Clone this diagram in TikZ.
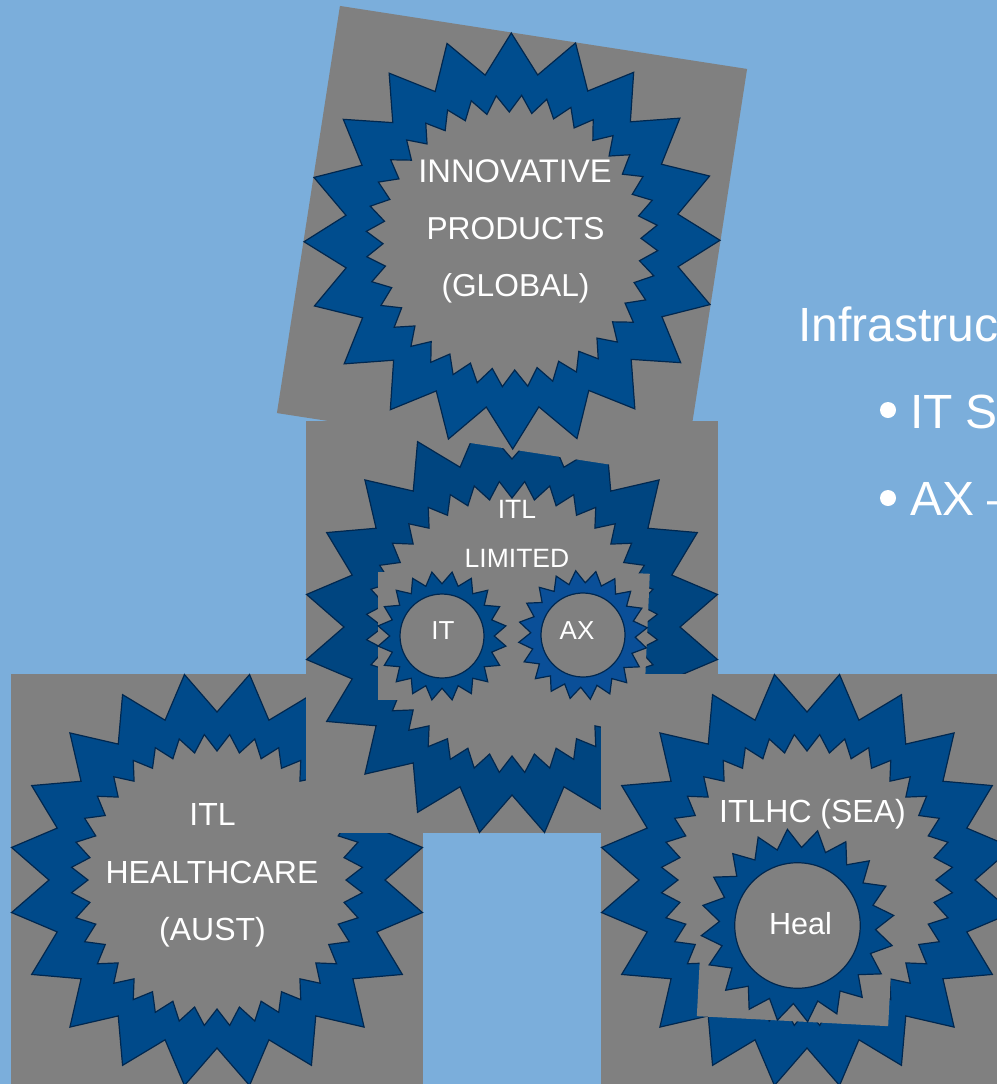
\documentclass[tikz,border=0pt]{standalone}
\usepackage{fontspec}
\setmainfont{Liberation Sans}
\definecolor{bgblue}{HTML}{7BAEDB}
\definecolor{panelgray}{HTML}{808080}
\definecolor{navyA}{HTML}{004D8E}
\definecolor{navyB}{HTML}{004580}
\definecolor{navyC}{HTML}{004A8A}
\definecolor{navyD}{HTML}{0A4F98}
\definecolor{edgeblue}{HTML}{00274F}
\newcommand{\fsz}[1]{\fontsize{#1bp}{#1bp}\selectfont}
\newcommand{\bigbadge}[5]{% cx cy rot fill scale: square, serrated ring
  \begin{scope}[shift={(#1,#2)},rotate=#3,scale=#5]
    \fill[panelgray] (-206,-206) rectangle (206,206);
    \filldraw[fill=#4,badgeedge] (0:168) \foreach \k in {0,...,19}{ -- ({9+18*\k}:208) -- ({18+18*\k}:168) } -- cycle;
    \filldraw[fill=panelgray,badgeedge] (0:129) \foreach \k in {0,...,35}{ -- ({5+10*\k}:146) -- ({10+10*\k}:129) } -- cycle;
  \end{scope}}
\newcommand{\smallbadge}[5]{% cx cy rot fill scale: square, toothed disc
  \begin{scope}[shift={(#1,#2)},rotate=#3,scale=#5]
    \fill[panelgray] (-206,-206) rectangle (206,206);
    \filldraw[fill=#4,badgeedge] (0:168) \foreach \k in {0,...,19}{ -- ({9+18*\k}:208) -- ({18+18*\k}:168) } -- cycle;
    \filldraw[fill=panelgray,badgeedge] (0,0) circle (135);
  \end{scope}}
\tikzset{
  x=1bp,y=-1bp,
  badgeedge/.style={draw=edgeblue,line width=1.2bp,line join=miter},
  lab/.style={text=white,anchor=base,inner sep=0pt,outer sep=0pt,font=\fsz{#1}},
  sidetext/.style={text=white,anchor=base west,inner sep=0pt,outer sep=0pt,font=\fsz{48}},
  dotmark/.style={circle,fill=white,inner sep=0pt,minimum size=16bp}
}
\begin{document}
\begin{tikzpicture}
\useasboundingbox (0,0) rectangle (997,1084);
\clip (0,0) rectangle (997,1084);
\fill[bgblue] (0,0) rectangle (997,1084);
\bigbadge{217}{880}{0}{navyC}{1}
\bigbadge{512}{627}{0}{navyB}{1}
\bigbadge{807}{880}{0}{navyC}{1}
\bigbadge{512}{241}{-8.8}{navyA}{1}
\smallbadge{442}{636}{0}{navyC}{0.311}
\smallbadge{583}{635}{-2.5}{navyD}{0.311}
\smallbadge{797.5}{925.5}{-3}{navyC}{0.465}
\node[lab=32.7] (innov) at (515,182) {INNOVATIVE};
\node[lab=31.7] (prod) at (515.5,239) {PRODUCTS};
\node[lab=31.7] (glob) at (515.5,296) {(GLOBAL)};
\node[lab=26.5] (itl) at (517,518) {ITL};
\node[lab=26.5] (lim) at (517,567) {LIMITED};
\node[lab=26] (it) at (443,639) {IT};
\node[lab=26] (ax) at (577,639) {AX};
\node[lab=32] (itlh) at (212.5,825) {ITL};
\node[lab=32] (health) at (212,883) {HEALTHCARE};
\node[lab=32] (aust) at (212.5,940) {(AUST)};
\node[lab=32] (sea) at (812.5,822) {ITLHC (SEA)};
\node[lab=30.5] (heal) at (800.5,934) {Heal};
\node[sidetext] (infra) at (798,341) {Infrastruc};
\node[dotmark] (b1) at (888,410) {};
\node[sidetext] (its) at (910,428) {IT S};
\node[dotmark] (b2) at (888,498) {};
\node[sidetext] (axs) at (910.5,515) {AX –};
\end{tikzpicture}
\end{document}
